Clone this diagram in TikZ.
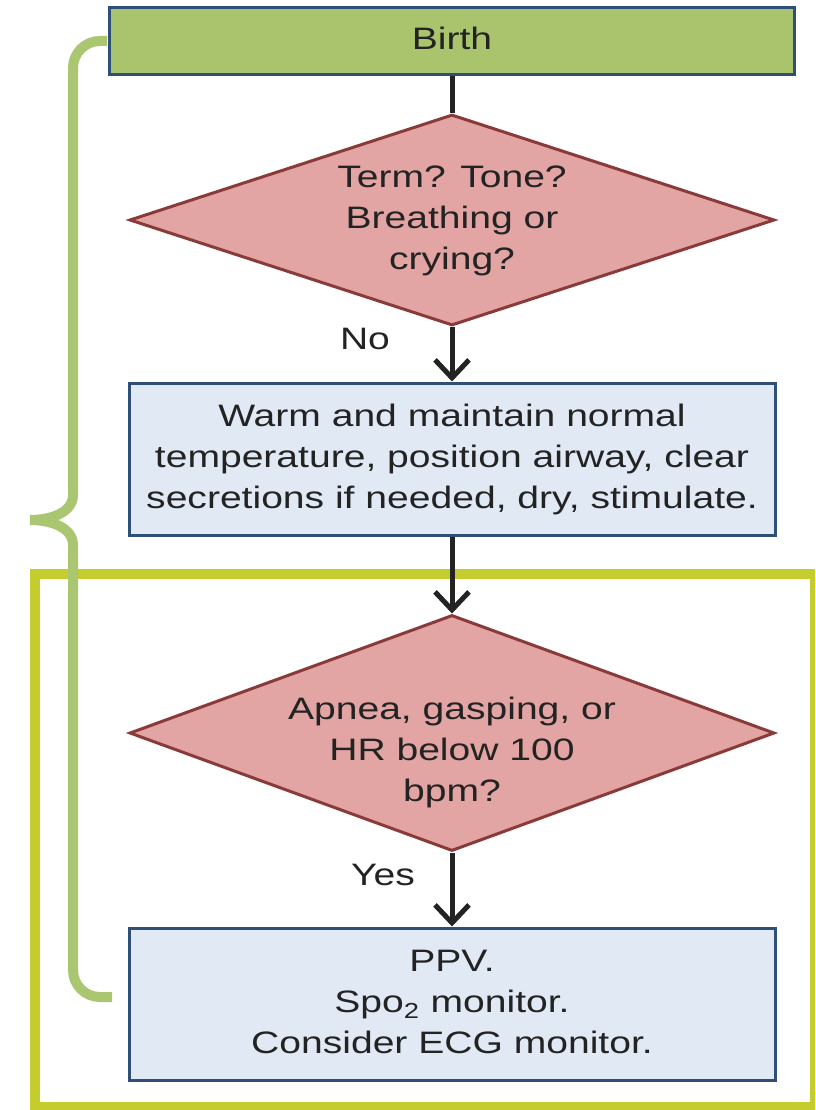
\documentclass[tikz,border=0pt]{standalone}
\usepackage{fontspec}
\setmainfont{Liberation Sans}
\usepackage{graphicx}
\usetikzlibrary{shapes.geometric,arrows.meta}
\definecolor{birthgreen}{RGB}{169,196,108}
\definecolor{bracegreen}{RGB}{170,198,112}
\definecolor{framelime}{RGB}{196,204,46}
\definecolor{boxblue}{RGB}{46,80,119}
\definecolor{actfill}{RGB}{225,233,245}
\definecolor{decfill}{RGB}{227,164,164}
\definecolor{decline}{RGB}{139,58,58}
\definecolor{inkdark}{RGB}{35,35,35}
\newcommand{\flowtext}[1]{\scalebox{1.26}[1]{\begin{tabular}{@{}c@{}}#1\end{tabular}}}
\begin{document}
\begin{tikzpicture}[x=1pt, y=-1pt,
  font=\fontsize{31}{41}\selectfont, text=inkdark,
  box/.style={draw=boxblue, line width=3pt, rectangle, inner sep=0pt},
  startbox/.style={box, fill=birthgreen, minimum width=685pt, minimum height=67pt},
  actbox/.style={box, fill=actfill, minimum width=646pt, minimum height=152pt},
  decision/.style={diamond, draw=decline, fill=decfill, line width=3pt, inner sep=0pt},
  txt/.style={inner sep=0pt},
  conn/.style={line width=5pt, draw=inkdark},
  arr/.style={conn, -{Straight Barb[length=18pt,width=34pt]}}]
  \useasboundingbox (0,0) rectangle (815,1110);
  \clip (0,0) rectangle (815,1110);
  % lime frame round the breathing part
  \draw[framelime, line width=10pt] (35,574) rectangle (815,1107);
  % brace on the left
  \draw[bracegreen, line width=10pt] (107,41) -- (100,41) to[out=180,in=90] (73,68)
    -- (73,495) .. controls (73,512) and (52,520) .. (30,520)
    .. controls (52,520) and (73,528) .. (73,545)
    -- (73,970) to[out=270,in=180] (100,997) -- (112,997);
  % boxes
  \node[startbox] (birth) at (452,41) {\flowtext{Birth}};
  \node[decision, minimum width=645pt, minimum height=211pt] (term) at (452,220) {};
  \node[txt] (termq) at (452,220) {\flowtext{Term? Tone?\\Breathing or\\crying?}};
  \node[actbox] (warm) at (452,459)
    {\flowtext{Warm and maintain normal\\temperature, position airway, clear\\secretions if needed, dry, stimulate.}};
  \node[decision, minimum width=645pt, minimum height=236pt] (apnea) at (452,733) {};
  \node[txt] (apneaq) at (452,752) {\flowtext{Apnea, gasping, or\\HR below 100\\bpm?}};
  \node[actbox] (ppv) at (452,1004)
    {\flowtext{PPV.\\Spo\textsubscript{2} monitor.\\Consider ECG monitor.}};
  % connectors
  \draw[conn] (birth) -- (term);
  \draw[arr] (term) -- (warm);
  \draw[arr] (warm) -- (apnea);
  \draw[arr] (apnea) -- (ppv);
  \node[txt] (no) at (365,341) {\flowtext{No}};
  \node[txt] (yes) at (383,877) {\flowtext{Yes}};
\end{tikzpicture}
\end{document}
